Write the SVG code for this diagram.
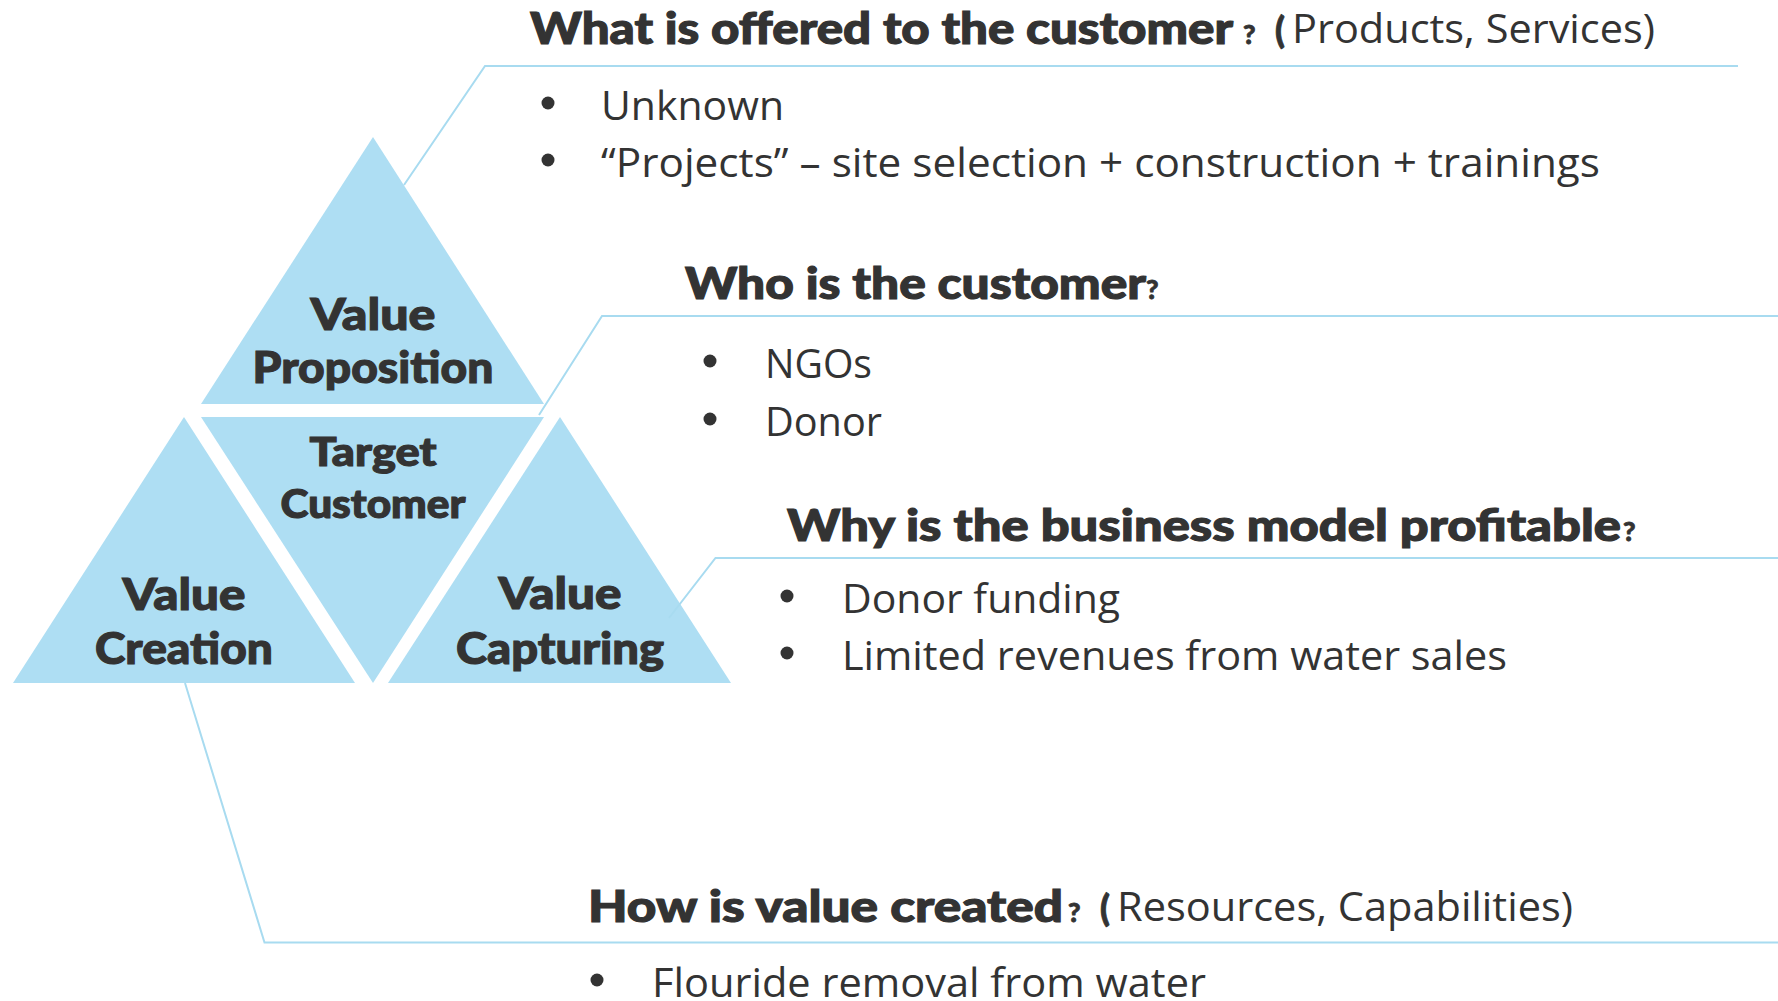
<svg xmlns="http://www.w3.org/2000/svg" width="1778" height="1001" viewBox="0 0 1778 1001">
  <style>
    .tri { fill: #AEDEF3; }
    .tri-label { font-family: Lato, "Liberation Sans", sans-serif; font-weight: 900; fill: #333333; stroke: #333333; stroke-width: 1.1; text-anchor: middle; }
    .head { font-family: Lato, "Liberation Sans", sans-serif; font-weight: 900; font-size: 43px; fill: #333333; stroke: #333333; stroke-width: 1.1; }
    .qmark { font-family: Lato, "Liberation Sans", sans-serif; font-weight: 900; font-size: 27px; fill: #333333; stroke: #333333; stroke-width: 0.8; }
    .paren { font-family: Lato, "Liberation Sans", sans-serif; font-weight: 900; font-size: 36px; fill: #333333; stroke: #333333; stroke-width: 0.8; }
    .sub { font-family: "Open Sans", "Liberation Sans", sans-serif; font-size: 41px; fill: #333333; }
    .body { font-family: "Open Sans", "Liberation Sans", sans-serif; font-size: 41px; fill: #333333; }
    .bullet { fill: #333333; }
    .link { fill: none; stroke: #A8DBF0; stroke-width: 2; stroke-linejoin: miter; }
  </style>
  <rect width="1778" height="1001" fill="#FFFFFF"/>

  <!-- pyramid of four triangles -->
  <g id="value-proposition">
    <polygon class="tri" points="373,137 544,404 201,404"/>
    <text class="tri-label" x="373" y="330" font-size="43" textLength="125" lengthAdjust="spacingAndGlyphs">Value</text>
    <text class="tri-label" x="373" y="383" font-size="43" textLength="241" lengthAdjust="spacingAndGlyphs">Proposition</text>
  </g>
  <g id="target-customer">
    <polygon class="tri" points="201,417 544,417 373,683"/>
    <text class="tri-label" x="373" y="466" font-size="39" textLength="127" lengthAdjust="spacingAndGlyphs">Target</text>
    <text class="tri-label" x="373" y="518" font-size="39" textLength="185" lengthAdjust="spacingAndGlyphs">Customer</text>
  </g>
  <g id="value-creation">
    <polygon class="tri" points="184,417 355,683 13,683"/>
    <text class="tri-label" x="184" y="610" font-size="43" textLength="123" lengthAdjust="spacingAndGlyphs">Value</text>
    <text class="tri-label" x="184" y="664" font-size="43" textLength="178" lengthAdjust="spacingAndGlyphs">Creation</text>
  </g>
  <g id="value-capturing">
    <polygon class="tri" points="560,417 731,683 388,683"/>
    <text class="tri-label" x="560" y="609" font-size="43" textLength="123" lengthAdjust="spacingAndGlyphs">Value</text>
    <text class="tri-label" x="560" y="664" font-size="43" textLength="208" lengthAdjust="spacingAndGlyphs">Capturing</text>
  </g>

  <!-- leader lines from the triangles to the question blocks -->
  <g id="connectors">
    <polyline class="link" points="404,185 485,66 1738,66"/>
    <polyline class="link" points="539,415 602,316 1778,316"/>
    <polyline class="link" points="669,618 715.5,558 1778,558"/>
    <polyline class="link" points="185,683 264.5,942.5 1778,942.5"/>
  </g>

  <!-- offer -->
  <g id="offer-block">
    <text class="head" x="530" y="44" textLength="703" lengthAdjust="spacingAndGlyphs">What is offered to the customer</text>
    <text class="qmark" x="1243" y="44">?</text>
    <text class="paren" x="1275" y="43">(</text>
    <text class="sub" x="1292" y="43" textLength="363" lengthAdjust="spacingAndGlyphs">Products, Services)</text>
    <circle class="bullet" cx="548" cy="103" r="6.5"/>
    <text class="body" x="601" y="120" textLength="183" lengthAdjust="spacingAndGlyphs">Unknown</text>
    <circle class="bullet" cx="548" cy="160" r="6.5"/>
    <text class="body" x="601" y="177" textLength="999" lengthAdjust="spacingAndGlyphs">“Projects” – site selection + construction + trainings</text>
  </g>

  <!-- customer -->
  <g id="customer-block">
    <text class="head" x="685" y="299" textLength="461" lengthAdjust="spacingAndGlyphs">Who is the customer</text>
    <text class="qmark" x="1146" y="299">?</text>
    <circle class="bullet" cx="710" cy="361" r="6.5"/>
    <text class="body" x="765" y="378" textLength="107" lengthAdjust="spacingAndGlyphs">NGOs</text>
    <circle class="bullet" cx="710" cy="419" r="6.5"/>
    <text class="body" x="765" y="436" textLength="117" lengthAdjust="spacingAndGlyphs">Donor</text>
  </g>

  <!-- profit -->
  <g id="profit-block">
    <text class="head" x="787" y="541" textLength="834" lengthAdjust="spacingAndGlyphs">Why is the business model profitable</text>
    <text class="qmark" x="1623" y="541">?</text>
    <circle class="bullet" cx="787" cy="596" r="6.5"/>
    <text class="body" x="842" y="613" textLength="278" lengthAdjust="spacingAndGlyphs">Donor funding</text>
    <circle class="bullet" cx="787" cy="653" r="6.5"/>
    <text class="body" x="842" y="670" textLength="665" lengthAdjust="spacingAndGlyphs">Limited revenues from water sales</text>
  </g>

  <!-- value creation -->
  <g id="creation-block">
    <text class="head" x="588" y="922" textLength="475" lengthAdjust="spacingAndGlyphs">How is value created</text>
    <text class="qmark" x="1068" y="922">?</text>
    <text class="paren" x="1100" y="921">(</text>
    <text class="sub" x="1117" y="921" textLength="456" lengthAdjust="spacingAndGlyphs">Resources, Capabilities)</text>
    <circle class="bullet" cx="597" cy="980" r="6.5"/>
    <text class="body" x="652" y="997" textLength="554" lengthAdjust="spacingAndGlyphs">Flouride removal from water</text>
  </g>
</svg>
